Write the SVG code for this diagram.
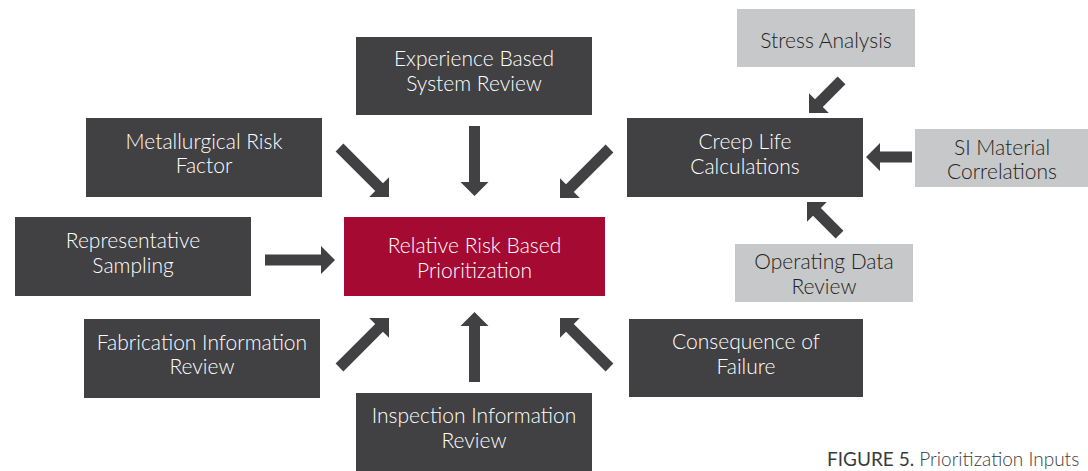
<svg xmlns="http://www.w3.org/2000/svg" xmlns:xlink="http://www.w3.org/1999/xlink" width="1088" height="471" viewBox="0 0 1088 471">
  <style>
    .dark { fill: #414042; }
    .light { fill: #c7c8ca; }
    .focus { fill: #a50a33; }
    .arrow { fill: #414042; }
    text { font-family: "Lato", "Liberation Sans", sans-serif; font-size: 21px; font-weight: 300; text-anchor: middle; }
    .wt { fill: #ffffff; }
    .bt { fill: #231f20; }
    .caption { font-size: 19px; text-anchor: start; fill: #3a3a3c; }
    .caption .lead { font-weight: 400; }
  </style>
  <defs>
    <!-- block arrows, tip at the origin, pointing along +x -->
    <path id="arrowLong" d="M-70,-5.5 L-14,-5.5 L-14,-14 L0,0 L-14,14 L-14,5.5 L-70,5.5 Z"/>
    <path id="arrowShort" d="M-46,-5.5 L-14,-5.5 L-14,-14 L0,0 L-14,14 L-14,5.5 L-46,5.5 Z"/>
  </defs>

  <g id="connectors" class="arrow">
    <use xlink:href="#arrowLong" transform="translate(389,197) rotate(45)"/>
    <use xlink:href="#arrowLong" transform="translate(474.5,196) rotate(90)"/>
    <use xlink:href="#arrowLong" transform="translate(560,198) rotate(135)"/>
    <use xlink:href="#arrowLong" transform="translate(335,260)"/>
    <use xlink:href="#arrowLong" transform="translate(389,318) rotate(-45)"/>
    <use xlink:href="#arrowLong" transform="translate(474.5,312) rotate(-90)"/>
    <use xlink:href="#arrowLong" transform="translate(560,318) rotate(-135)"/>
    <use xlink:href="#arrowShort" transform="translate(809,113) rotate(135)"/>
    <use xlink:href="#arrowShort" transform="translate(866,157) rotate(180)"/>
    <use xlink:href="#arrowShort" transform="translate(807,202) rotate(-135)"/>
  </g>

  <g id="node-experience">
    <rect class="dark" x="356" y="37" width="236" height="78"/>
    <text class="wt" x="474" y="66">Experience Based</text>
    <text class="wt" x="474" y="91">System Review</text>
  </g>

  <g id="node-metallurgical">
    <rect class="dark" x="86" y="118" width="236" height="79"/>
    <text class="wt" x="204" y="149">Metallurgical Risk</text>
    <text class="wt" x="204" y="173">Factor</text>
  </g>

  <g id="node-creep">
    <rect class="dark" x="627" y="118" width="236" height="79"/>
    <text class="wt" x="745" y="149">Creep Life</text>
    <text class="wt" x="745" y="174">Calculations</text>
  </g>

  <g id="node-stress">
    <rect class="light" x="737" y="9" width="178" height="58"/>
    <text class="bt" x="826" y="48">Stress Analysis</text>
  </g>

  <g id="node-si-material">
    <rect class="light" x="915" y="129" width="173" height="58"/>
    <text class="bt" x="1002" y="155">SI Material</text>
    <text class="bt" x="1002" y="179">Correlations</text>
  </g>

  <g id="node-operating">
    <rect class="light" x="735" y="244" width="178" height="58"/>
    <text class="bt" x="824" y="269">Operating Data</text>
    <text class="bt" x="824" y="294">Review</text>
  </g>

  <g id="node-representative">
    <rect class="dark" x="15" y="217" width="236" height="79"/>
    <text class="wt" x="133" y="248">Representative</text>
    <text class="wt" x="133" y="273">Sampling</text>
  </g>

  <g id="node-relative-risk">
    <rect class="focus" x="344" y="217" width="261" height="79"/>
    <text class="wt" x="474.5" y="253">Relative Risk Based</text>
    <text class="wt" x="474.5" y="278">Prioritization</text>
  </g>

  <g id="node-fabrication">
    <rect class="dark" x="84" y="319" width="236" height="79"/>
    <text class="wt" x="202" y="350">Fabrication Information</text>
    <text class="wt" x="202" y="374">Review</text>
  </g>

  <g id="node-consequence">
    <rect class="dark" x="629" y="319" width="234" height="78"/>
    <text class="wt" x="746" y="349">Consequence of</text>
    <text class="wt" x="746" y="374">Failure</text>
  </g>

  <g id="node-inspection">
    <rect class="dark" x="356" y="393" width="236" height="78"/>
    <text class="wt" x="474" y="423">Inspection Information</text>
    <text class="wt" x="474" y="448">Review</text>
  </g>

  <text class="caption" x="827" y="466"><tspan class="lead">FIGURE 5.</tspan> Prioritization Inputs</text>
</svg>
